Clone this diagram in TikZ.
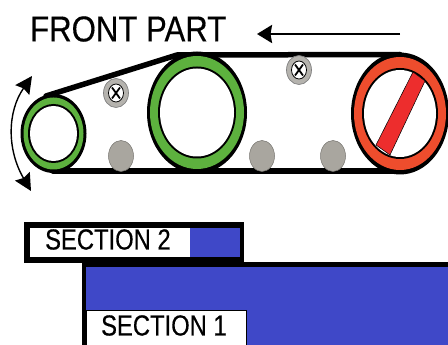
\documentclass[tikz,border=0pt]{standalone}
\usepackage{fontspec}
\setmainfont{Liberation Sans}[RawFeature={embolden=0.4}]
\usetikzlibrary{arrows.meta}
\definecolor{wheelgreen}{HTML}{5DB13E}
\definecolor{wheelred}{HTML}{EE4D2D}
\definecolor{barred}{HTML}{ED2D2D}
\definecolor{rollergray}{HTML}{A9A69F}
\definecolor{boltgray}{HTML}{B5B3AE}
\definecolor{deckblue}{HTML}{3F48C8}
\tikzset{
  belt/.style={line width=5.5pt,line join=round,line cap=round},
  bigtext/.style={inner sep=0pt,xscale=0.865,font=\fontsize{36}{36}\selectfont},
  sectext/.style={inner sep=0pt,xscale=0.82,font=\fontsize{29}{29}\selectfont},
  bigarrow/.style={line width=2.4pt,-{Stealth[length=15pt,width=18pt,inset=1.5pt]}},
  swingarrow/.style={line width=1.4pt,{Stealth[length=17pt,width=17pt,inset=2pt]}-{Stealth[length=17pt,width=17pt,inset=2pt]}},
}
\begin{document}
\begin{tikzpicture}[x=1pt,y=-1pt]
      \useasboundingbox (0,0) rectangle (448,345);

      % the belt
      \draw[belt] (46,96) -- (177,55) -- (400,54.5);
      \draw[belt] (53,171) -- (400,171);

      %% the wheels: x, y, rx, ry of the rims, then colour
      \foreach \x/\y/\rx/\ry/\gx/\gy/\hx/\hy/\c in {
        53.5/133.5/33/39.5/30/36/25.5/29.5/wheelgreen,
        197/112.5/50/61/47/56.5/39/46/wheelgreen,
        400/113.5/49/61/46/56.5/38/45.5/wheelred}
      {
        \fill (\x,\y) ellipse ({\rx} and {\ry});
        \fill[\c] (\x,\y) ellipse ({\gx} and {\gy});
        \fill (\x,\y) ellipse ({\hx} and {\hy});
        \fill[white] (\x,\y) ellipse ({\hx-2} and {\hy-2});
      }

      % the bar of the front wheel
      \draw[fill=barred,line width=0.5pt] (376,145) -- (413,72) -- (425,81) -- (390,155) -- cycle;

      %% the rollers
      \foreach \x in {121,262,333}
      {
        \draw[fill=rollergray,draw=rollergray!70!black,line width=0.5pt] (\x,156) ellipse (12.5 and 15.5);
      }

      %% the bolts
      \foreach \x/\y in {116/93,299/70}
      {
        \draw[fill=boltgray,draw=gray,line width=0.7pt] (\x,\y) ellipse (12.5 and 14.5);
        \draw[fill=white,line width=0.8pt] (\x,\y) ellipse (7.5 and 9);
        \draw[line width=1.8pt] (\x,\y) +(-4,-5.5) -- +(4,5.5) +(-4,5.5) -- +(4,-5.5);
      }

      % swing and direction arrows
      \coordinate (swingtop) at (32,76);
      \coordinate (swingbot) at (31,191);
      \draw[swingarrow] (swingtop) .. controls (7,112) and (7,150) .. (swingbot);
      \coordinate (dirstart) at (400,34);
      \coordinate (dirend) at (257,34);
      \draw[bigarrow] (dirstart) -- (dirend);

      \node[bigtext,anchor=west] (front) at (30,29) {FRONT PART};

      %% section 1
      \fill (81.5,261.5) rectangle (448,345);
      \fill[deckblue] (86,267) rectangle (448,345);
      \draw[fill=white,line width=0.5pt] (86,310) rectangle (246,346);
      \node[sectext,anchor=west] (secone) at (101,325.5) {SECTION 1};

      %% section 2
      \fill (23.5,221.5) rectangle (243.5,263);
      \fill[white] (29.5,228) rectangle (190,257);
      \fill[deckblue] (190,228) rectangle (239.5,257);
      \node[sectext,anchor=west] (sectwo) at (45,239.5) {SECTION 2};
\end{tikzpicture}
\end{document}
